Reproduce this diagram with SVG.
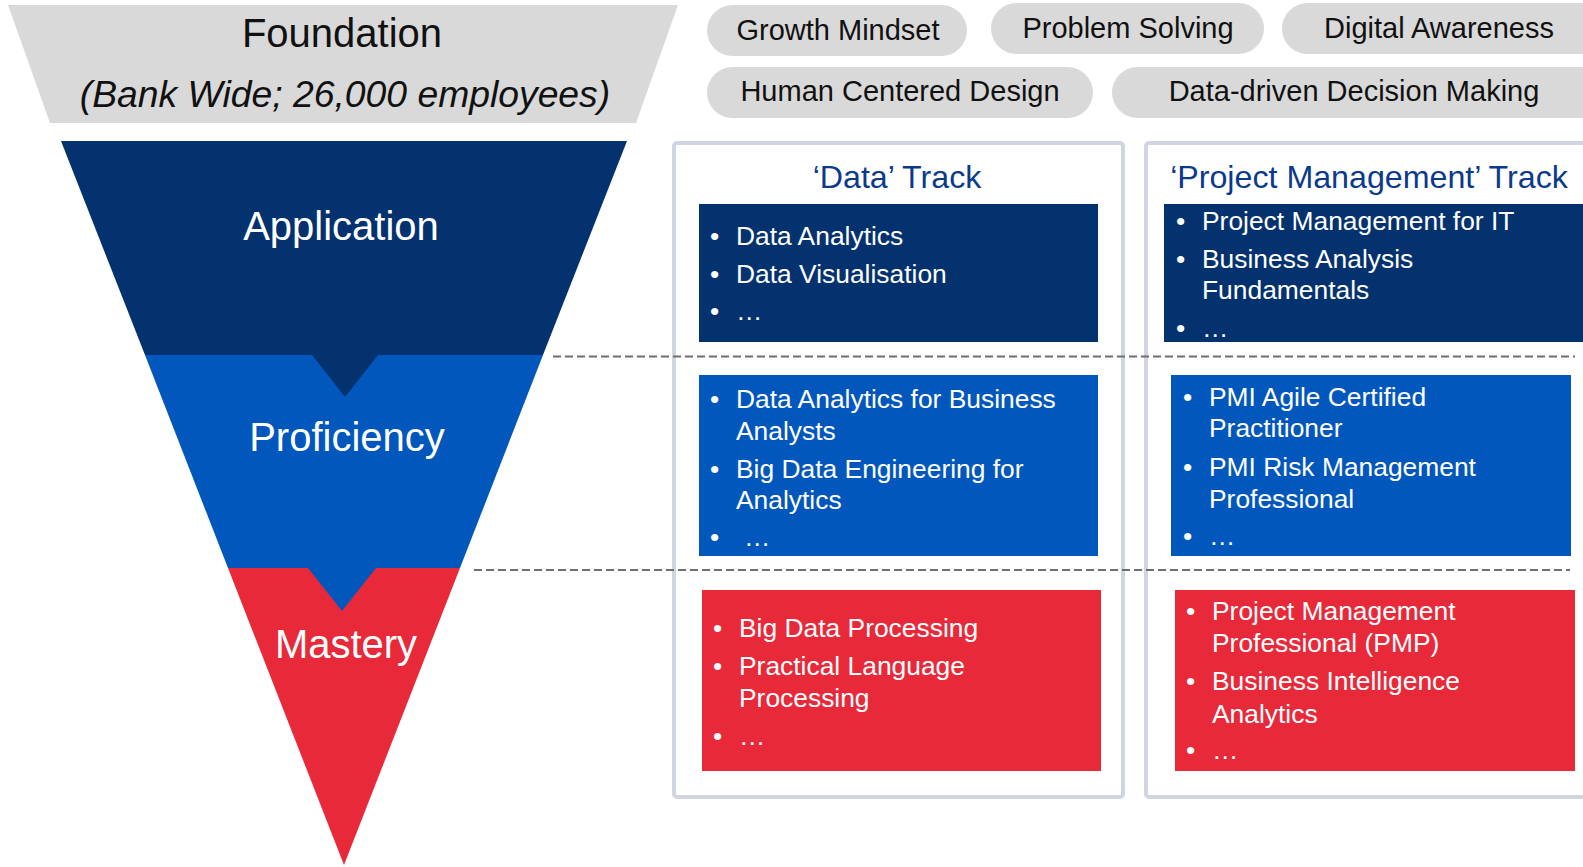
<svg xmlns="http://www.w3.org/2000/svg" width="1583" height="867" viewBox="0 0 1583 867">
<style>
text{font-family:"Liberation Sans",Arial,sans-serif}
.pill{fill:#d9d9d9}
.pilltxt{font-size:29px;fill:#111;text-anchor:middle}
.lvl{font-size:40px;fill:#fff;text-anchor:middle}
.track{fill:#fff;stroke:#d0d5e1;stroke-width:4}
.ttl{font-size:32.2px;fill:#0b3a8c;text-anchor:middle}
.item{font-size:26.4px;fill:#fff}
.navy{fill:#03326e}
.blue{fill:#0257bc}
.red{fill:#e8293a}
.sep{stroke:#6e6e6e;stroke-width:2;stroke-dasharray:8 4;fill:none}
</style>
<rect width="1583" height="867" fill="#fff"/>

<g id="foundation">
<polygon points="8,5 678,5 636,123 50,123" fill="#d9d9d9"/>
<text x="342" y="47" font-size="40" fill="#111" text-anchor="middle">Foundation</text>
<text x="345" y="107" font-size="37.3" font-style="italic" fill="#111" text-anchor="middle">(Bank Wide; 26,000 employees)</text>
</g>

<g id="skill-growth-mindset"><rect class="pill" x="707" y="5" width="260" height="51" rx="25.5"/><text class="pilltxt" x="838" y="40">Growth Mindset</text></g>
<g id="skill-problem-solving"><rect class="pill" x="991" y="3" width="273" height="51" rx="25.5"/><text class="pilltxt" x="1128" y="38">Problem Solving</text></g>
<g id="skill-digital-awareness"><rect class="pill" x="1282" y="3" width="330" height="51" rx="25.5"/><text class="pilltxt" x="1439" y="38">Digital Awareness</text></g>
<g id="skill-hcd"><rect class="pill" x="707" y="67" width="386" height="51" rx="25.5"/><text class="pilltxt" x="900" y="101">Human Centered Design</text></g>
<g id="skill-ddm"><rect class="pill" x="1112" y="67" width="500" height="51" rx="25.5"/><text class="pilltxt" x="1354" y="101">Data-driven Decision Making</text></g>

<g id="level-application">
<polygon class="navy" points="61,141 627,141 543,355 145,355"/>
<text class="lvl" x="341" y="240">Application</text>
</g>
<g id="level-proficiency">
<polygon class="blue" points="145,355 543,355 460,568 228,568"/>
<polygon class="navy" points="312,355 378,355 345,397"/>
<text class="lvl" x="347" y="451">Proficiency</text>
</g>
<g id="level-mastery">
<polygon class="red" points="228,568 460,568 344,865"/>
<polygon class="blue" points="308,568 376,568 342,611"/>
<text class="lvl" x="346" y="658">Mastery</text>
</g>

<g id="track-data">
<rect class="track" x="674" y="143" width="449" height="654" rx="3"/>
<text class="ttl" x="897" y="188">‘Data’ Track</text>
</g>
<g id="track-pm">
<rect class="track" x="1146" y="143" width="460" height="654" rx="3"/>
<text class="ttl" x="1369" y="188">‘Project Management’ Track</text>
</g>

<g id="data-application">
<rect class="navy" x="699" y="204" width="399" height="138"/>
<text class="item" x="710" y="245">•</text><text class="item" x="736" y="245">Data Analytics</text>
<text class="item" x="710" y="283">•</text><text class="item" x="736" y="283">Data Visualisation</text>
<text class="item" x="710" y="320">•</text><text class="item" x="736" y="320">…</text>
</g>
<g id="pm-application">
<rect class="navy" x="1164" y="204" width="430" height="138"/>
<text class="item" x="1176" y="230">•</text><text class="item" x="1202" y="230">Project Management for IT</text>
<text class="item" x="1176" y="268">•</text><text class="item" x="1202" y="268">Business Analysis</text>
<text class="item" x="1202" y="299">Fundamentals</text>
<text class="item" x="1176" y="337">•</text><text class="item" x="1202" y="337">…</text>
</g>

<g id="data-proficiency">
<rect class="blue" x="699" y="375" width="399" height="181"/>
<text class="item" x="710" y="408">•</text><text class="item" x="736" y="408">Data Analytics for Business</text>
<text class="item" x="736" y="440">Analysts</text>
<text class="item" x="710" y="478">•</text><text class="item" x="736" y="478">Big Data Engineering for</text>
<text class="item" x="736" y="509">Analytics</text>
<text class="item" x="710" y="546">•</text><text class="item" x="744" y="546">…</text>
</g>
<g id="pm-proficiency">
<rect class="blue" x="1171" y="375" width="400" height="181"/>
<text class="item" x="1183" y="406">•</text><text class="item" x="1209" y="406">PMI Agile Certified</text>
<text class="item" x="1209" y="437">Practitioner</text>
<text class="item" x="1183" y="476">•</text><text class="item" x="1209" y="476">PMI Risk Management</text>
<text class="item" x="1209" y="508">Professional</text>
<text class="item" x="1183" y="545">•</text><text class="item" x="1209" y="545">…</text>
</g>

<g id="data-mastery">
<rect class="red" x="702" y="590" width="399" height="181"/>
<text class="item" x="713" y="637">•</text><text class="item" x="739" y="637">Big Data Processing</text>
<text class="item" x="713" y="675">•</text><text class="item" x="739" y="675">Practical Language</text>
<text class="item" x="739" y="707">Processing</text>
<text class="item" x="713" y="745">•</text><text class="item" x="739" y="745">…</text>
</g>
<g id="pm-mastery">
<rect class="red" x="1175" y="590" width="400" height="181"/>
<text class="item" x="1186" y="620">•</text><text class="item" x="1212" y="620">Project Management</text>
<text class="item" x="1212" y="652">Professional (PMP)</text>
<text class="item" x="1186" y="690">•</text><text class="item" x="1212" y="690">Business Intelligence</text>
<text class="item" x="1212" y="723">Analytics</text>
<text class="item" x="1186" y="759">•</text><text class="item" x="1212" y="759">…</text>
</g>

<g id="connectors">
<line class="sep" x1="553" y1="356.5" x2="1575" y2="356.5"/>
<line class="sep" x1="474" y1="570" x2="1570" y2="570"/>
</g>
</svg>
